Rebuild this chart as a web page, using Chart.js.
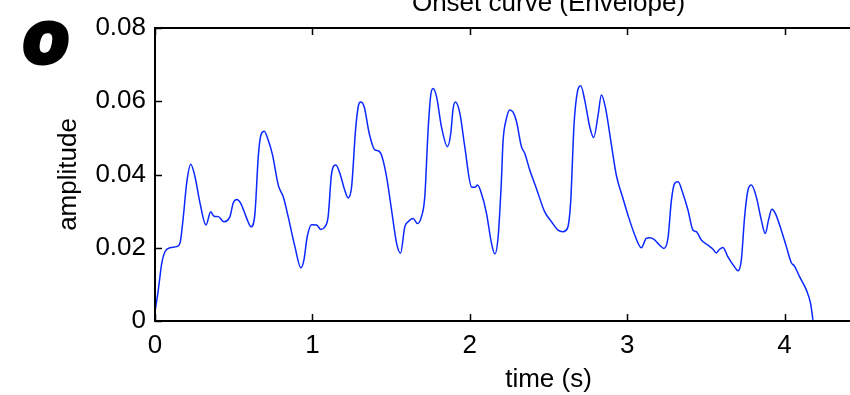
<!DOCTYPE html>
<html>
<head>
<meta charset="utf-8">
<title>Onset curve (Envelope)</title>
<script src="https://cdn.jsdelivr.net/npm/chart.js@4.4.0/dist/chart.umd.min.js"></script>
<style>
    html, body { margin: 0; padding: 0; background: #fff; overflow: hidden; }
    #wrap { width: 850px; height: 395px; overflow: hidden; }
</style>
</head>
<body>
<div id="wrap"><canvas id="chartCanvas" width="1000" height="395"></canvas></div>
<script>
// envelope: time in seconds, amplitude
const timeS = [
    0.000, 0.021, 0.043, 0.063, 0.095, 0.138, 0.159, 0.180, 0.201, 0.227,
    0.254, 0.286, 0.324, 0.354, 0.375, 0.402, 0.438, 0.476, 0.497, 0.519,
    0.544, 0.582, 0.610, 0.635, 0.656, 0.673, 0.694, 0.719, 0.747, 0.783,
    0.815, 0.846, 0.889, 0.927, 0.946, 0.967, 0.995, 1.027, 1.054, 1.079,
    1.100, 1.122, 1.149, 1.175, 1.202, 1.227, 1.249, 1.274, 1.291, 1.306,
    1.329, 1.361, 1.397, 1.418, 1.439, 1.471, 1.503, 1.535, 1.560, 1.587,
    1.608, 1.640, 1.668, 1.693, 1.714, 1.735, 1.752, 1.767, 1.789, 1.820,
    1.858, 1.879, 1.894, 1.909, 1.937, 1.968, 2.011, 2.032, 2.049, 2.074,
    2.106, 2.138, 2.159, 2.180, 2.201, 2.211, 2.233, 2.254, 2.275, 2.297,
    2.328, 2.349, 2.381, 2.423, 2.476, 2.519, 2.561, 2.592, 2.620, 2.641,
    2.662, 2.684, 2.705, 2.730, 2.762, 2.787, 2.815, 2.836, 2.863, 2.900,
    2.931, 2.973, 3.005, 3.048, 3.090, 3.122, 3.143, 3.170, 3.206, 3.234,
    3.259, 3.281, 3.302, 3.323, 3.354, 3.386, 3.418, 3.439, 3.471, 3.513,
    3.545, 3.566, 3.587, 3.608, 3.640, 3.683, 3.704, 3.725, 3.746, 3.767,
    3.789, 3.820, 3.852, 3.877, 3.898, 3.919, 3.941, 3.979, 4.011, 4.043,
    4.063, 4.095, 4.138, 4.165, 4.180
];
const amplitude = [
    0.0025, 0.0085, 0.0158, 0.0189, 0.0200, 0.0203, 0.0213, 0.0285, 0.0376, 0.0428,
    0.0394, 0.0322, 0.0262, 0.0298, 0.0286, 0.0285, 0.0271, 0.0285, 0.0322, 0.0332,
    0.0322, 0.0281, 0.0257, 0.0294, 0.0448, 0.0508, 0.0518, 0.0494, 0.0453, 0.0371,
    0.0339, 0.0285, 0.0203, 0.0145, 0.0166, 0.0230, 0.0263, 0.0262, 0.0250, 0.0257,
    0.0285, 0.0403, 0.0426, 0.0403, 0.0362, 0.0336, 0.0366, 0.0521, 0.0585, 0.0598,
    0.0585, 0.0512, 0.0467, 0.0465, 0.0453, 0.0394, 0.0303, 0.0212, 0.0185, 0.0257,
    0.0271, 0.0280, 0.0266, 0.0285, 0.0339, 0.0521, 0.0617, 0.0635, 0.0612, 0.0530,
    0.0476, 0.0512, 0.0580, 0.0598, 0.0567, 0.0476, 0.0366, 0.0365, 0.0371, 0.0348,
    0.0294, 0.0212, 0.0183, 0.0230, 0.0385, 0.0489, 0.0553, 0.0576, 0.0570, 0.0544,
    0.0476, 0.0458, 0.0412, 0.0362, 0.0298, 0.0271, 0.0248, 0.0244, 0.0253, 0.0326,
    0.0535, 0.0626, 0.0642, 0.0603, 0.0530, 0.0501, 0.0562, 0.0617, 0.0580, 0.0480,
    0.0398, 0.0335, 0.0289, 0.0235, 0.0200, 0.0226, 0.0227, 0.0223, 0.0207, 0.0198,
    0.0226, 0.0330, 0.0376, 0.0380, 0.0348, 0.0303, 0.0248, 0.0244, 0.0221, 0.0207,
    0.0196, 0.0186, 0.0196, 0.0201, 0.0175, 0.0147, 0.0137, 0.0166, 0.0285, 0.0357,
    0.0371, 0.0339, 0.0276, 0.0239, 0.0276, 0.0305, 0.0294, 0.0248, 0.0203, 0.0159,
    0.0150, 0.0121, 0.0085, 0.0048, 0.0003
];

const xTicks = [0, 1, 2, 3, 4, 5];
const yTicks = [0, 0.02, 0.04, 0.06, 0.08];
const plotTitle = 'Onset curve (Envelope)';
const panelLetter = 'o';

const FONT = "'Liberation Sans', Arial, Helvetica, sans-serif";
const ctx = document.getElementById('chartCanvas').getContext('2d');

// matlab style box with inward ticks, plus title and panel letter
const matlabAxes = {
    id: 'matlabAxes',
    afterDatasetsDraw(chart) {
        const c = chart.ctx;
        const a = chart.chartArea;
        const xs = chart.scales.x;
        const ys = chart.scales.y;
        const tick = 7;
        c.save();
        c.strokeStyle = '#000';
        c.lineWidth = 1.5;
        xTicks.forEach(v => {
            const px = Math.round(xs.getPixelForValue(v)) + 0.5;
            c.beginPath();
            c.moveTo(px, a.bottom); c.lineTo(px, a.bottom - tick);
            c.moveTo(px, a.top); c.lineTo(px, a.top + tick);
            c.stroke();
        });
        yTicks.forEach(v => {
            const py = Math.round(ys.getPixelForValue(v)) + 0.5;
            c.beginPath();
            c.moveTo(a.left, py); c.lineTo(a.left + tick, py);
            c.moveTo(a.right, py); c.lineTo(a.right - tick, py);
            c.stroke();
        });
        c.lineWidth = 2;
        c.strokeRect(a.left, a.top, a.right - a.left, a.bottom - a.top);

        c.fillStyle = '#000';
        c.font = '26px ' + FONT;
        c.textAlign = 'center';
        c.textBaseline = 'alphabetic';
        c.fillText(plotTitle, (a.left + a.right) / 2, 11);

        // heavy panel letter
        c.font = 'italic bold 72px ' + FONT;
        c.lineWidth = 6;
        c.lineJoin = 'round';
        c.fillText(panelLetter, 46, 62);
        c.strokeText(panelLetter, 46, 62);
        c.restore();
    }
};

const chart = new Chart(ctx, {
    type: 'line',
    data: {
        datasets: [{
            label: 'envelope',
            data: timeS.map((t, i) => ({ x: t, y: amplitude[i] })),
            borderColor: 'rgb(10, 40, 255)',
            borderWidth: 1.5,
            pointRadius: 0,
            fill: false,
            cubicInterpolationMode: 'monotone'
        }]
    },
    options: {
        responsive: false,
        animation: false,
        events: [],
        layout: { padding: { top: 28, right: 58, left: 0, bottom: 0 } },
        plugins: {
            legend: { display: false },
            tooltip: { enabled: false }
        },
        scales: {
            x: {
                type: 'linear',
                min: 0,
                max: 5,
                afterBuildTicks: s => { s.ticks = xTicks.map(v => ({ value: v })); },
                afterFit: s => { s.height = 74; },
                grid: { display: false, drawTicks: false },
                border: { display: false },
                ticks: {
                    color: '#000',
                    padding: 9,
                    maxRotation: 0,
                    font: { family: FONT, size: 26 },
                    callback: v => String(v)
                },
                title: {
                    display: true,
                    text: 'time (s)',
                    color: '#000',
                    padding: { top: 0, bottom: 0 },
                    font: { family: FONT, size: 26 }
                }
            },
            y: {
                min: 0,
                max: 0.08,
                afterBuildTicks: s => { s.ticks = yTicks.map(v => ({ value: v })); },
                afterFit: s => { s.width = 155; },
                grid: { display: false, drawTicks: false },
                border: { display: false },
                ticks: {
                    color: '#000',
                    padding: 9,
                    font: { family: FONT, size: 26 },
                    callback: v => v === 0 ? '0' : v.toFixed(2)
                },
                title: {
                    display: true,
                    text: 'amplitude',
                    color: '#000',
                    padding: { top: 53, bottom: 0 },
                    font: { family: FONT, size: 26 }
                }
            }
        }
    },
    plugins: [matlabAxes]
});
</script>
</body>
</html>
